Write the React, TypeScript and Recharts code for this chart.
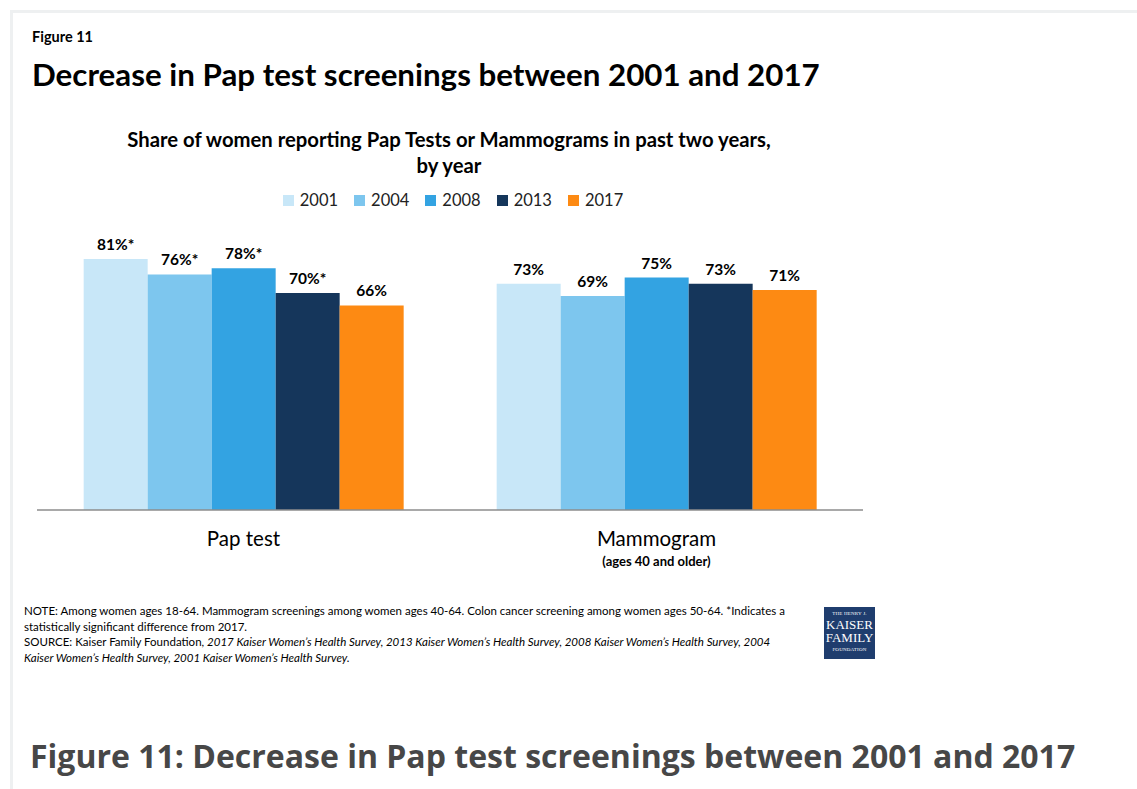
import React from 'react';
import { BarChart, Bar, XAxis, YAxis, LabelList } from 'recharts';

const categories = ['Pap test', 'Mammogram'];
const categorySubLabels = ['', '(ages 40 and older)'];
const years = ['2001', '2004', '2008', '2013', '2017'];
const values2001 = [81, 73];
const values2004 = [76, 69];
const values2008 = [78, 75];
const values2013 = [70, 73];
const values2017 = [66, 71];
const significant2001 = [true, false];
const significant2004 = [true, false];
const significant2008 = [true, false];
const significant2013 = [true, false];
const significant2017 = [false, false];
const colors = ['#c8e7f8', '#7dc6ee', '#33a3e2', '#15365b', '#fd8a13'];

const seriesValues = [values2001, values2004, values2008, values2013, values2017];
const seriesSig = [significant2001, significant2004, significant2008, significant2013, significant2017];

const data = categories.map((c, i) => {
  const row: any = { category: c, sub: categorySubLabels[i] };
  years.forEach((y, k) => {
    row['v' + y] = seriesValues[k][i];
    row['l' + y] = seriesValues[k][i] + '%' + (seriesSig[k][i] ? '*' : '');
  });
  return row;
});

const FONT = 'Lato, "Open Sans", sans-serif';

const CategoryTick = (props: any) => {
  const { x, y, payload, index } = props;
  const sub = categorySubLabels[index];
  return (
    <g>
      <text x={x} y={y + 28} textAnchor="middle" fontFamily={FONT} fontSize={20.5} fill="#000">
        {payload.value}
      </text>
      {sub ? (
        <text x={x} y={y + 48} textAnchor="middle" fontFamily={FONT} fontSize={13} fontWeight="bold" fill="#000">
          {sub}
        </text>
      ) : null}
    </g>
  );
};

export default function App() {
  return (
    <div style={{ position: 'absolute', left: 0, top: 0, width: 1137, height: 789, background: '#fff', overflow: 'hidden', fontFamily: FONT }}>
      <div style={{ position: 'absolute', left: 10, top: 10, width: 1140, height: 790, borderTop: '3px solid #eef0f1', borderLeft: '3px solid #eef0f1' }} />
      <div style={{ position: 'absolute', left: 32, top: 28, fontSize: 14.5, fontWeight: 'bold', color: '#000' }}>Figure 11</div>
      <div style={{ position: 'absolute', left: 32, top: 55, fontSize: 31.3, fontWeight: 'bold', color: '#000', whiteSpace: 'nowrap' }}>
        Decrease in Pap test screenings between 2001 and 2017
      </div>
      <div style={{ position: 'absolute', left: 50, width: 798, top: 126, fontSize: 20.3, fontWeight: 'bold', color: '#000', textAlign: 'center', lineHeight: '26px', whiteSpace: 'nowrap' }}>
        Share of women reporting Pap Tests or Mammograms in past two years,
        <br />
        by year
      </div>
      <div style={{ position: 'absolute', left: 3, width: 900, top: 190, display: 'flex', justifyContent: 'center', gap: 16 }}>
        {years.map((y, k) => (
          <div key={y} style={{ display: 'flex', alignItems: 'center', fontSize: 16.5, color: '#222' }}>
            <span style={{ display: 'inline-block', width: 11, height: 11, background: colors[k], marginRight: 6 }} />
            {y}
          </div>
        ))}
      </div>
      <div style={{ position: 'absolute', left: 0, top: 0 }}>
        <BarChart width={1137} height={789} data={data} margin={{ top: 200, right: 274, bottom: 249, left: 37 }} barCategoryGap="11.3%" barGap={0}>
          <XAxis dataKey="category" height={30} axisLine={{ stroke: '#8c8c8c', strokeWidth: 1.5 }} tickLine={false} tick={<CategoryTick />} interval={0} />
          <YAxis hide domain={[0, 100]} />
          {years.map((y, k) => (
            <Bar key={y} dataKey={'v' + y} fill={colors[k]} isAnimationActive={false}>
              <LabelList dataKey={'l' + y} position="top" offset={9} fontFamily={FONT} fontSize={15.5} fontWeight="bold" fill="#000" />
            </Bar>
          ))}
        </BarChart>
      </div>
      <div style={{ position: 'absolute', left: 24, top: 603, fontSize: 11.5, lineHeight: '15.5px', color: '#000', whiteSpace: 'nowrap' }}>
        NOTE: Among women ages 18-64. Mammogram screenings among women ages 40-64. Colon cancer screening among women ages 50-64. *Indicates a
        <br />
        statistically significant difference from 2017.
        <br />
        SOURCE: Kaiser Family Foundation, <i>2017 Kaiser Women’s Health Survey, 2013 Kaiser Women’s Health Survey, 2008 Kaiser Women’s Health Survey, 2004</i>
        <br />
        <i>Kaiser Women’s Health Survey, 2001 Kaiser Women’s Health Survey.</i>
      </div>
      <div style={{ position: 'absolute', left: 824, top: 607, width: 51, height: 52, background: '#1f3d6e', color: '#fff', fontFamily: '"Liberation Serif", serif', textAlign: 'center', lineHeight: 1 }}>
        <div style={{ fontSize: 5, marginTop: 4, letterSpacing: 0.2 }}>THE HENRY J.</div>
        <div style={{ fontSize: 13, marginTop: 2 }}>KAISER</div>
        <div style={{ fontSize: 13 }}>FAMILY</div>
        <div style={{ fontSize: 5, marginTop: 3, letterSpacing: 0.2 }}>FOUNDATION</div>
      </div>
      <div style={{ position: 'absolute', left: 30, top: 734, fontFamily: '"Open Sans", sans-serif', fontSize: 32, fontWeight: 'bold', color: '#474747', whiteSpace: 'nowrap' }}>
        Figure 11: Decrease in Pap test screenings between 2001 and 2017
      </div>
    </div>
  );
}
